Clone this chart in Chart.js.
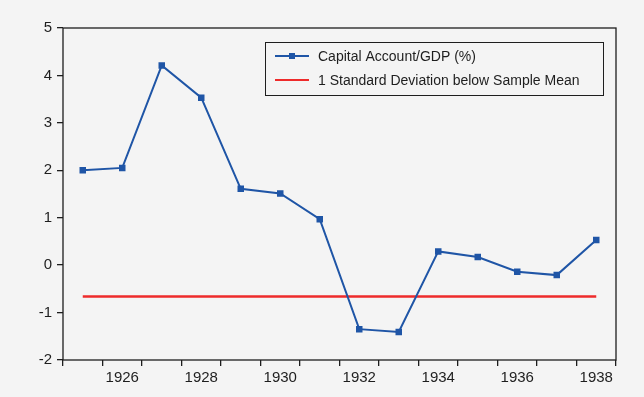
<!DOCTYPE html>
<html>
<head>
<meta charset="utf-8">
<script src="https://cdn.jsdelivr.net/npm/chart.js@4"></script>
<style>
  html, body { margin: 0; padding: 0; background: #f4f4f4; }
  #wrap { width: 644px; height: 397px; }
</style>
</head>
<body>
<div id="wrap"><canvas id="chart" width="644" height="397"></canvas></div>
<script>
const years = ["1925", "1926", "1927", "1928", "1929", "1930", "1931", "1932", "1933", "1934", "1935", "1936", "1937", "1938"];
const capitalAccount = [2.0, 2.05, 4.21, 3.53, 1.61, 1.51, 0.97, -1.35, -1.41, 0.29, 0.17, -0.14, -0.21, 0.53];
const sdBelowMean = -0.66;
const yTicks = [-2, -1, 0, 1, 2, 3, 4, 5];

const seriesNames = ["Capital Account/GDP (%)", "1 Standard Deviation below Sample Mean"];
const blue = "#1f55a6";
const red = "#ee2b2b";
const ink = "#1e1e1e";

// box round the plot + the boxed legend in the upper right
const frameAndLegend = {
  id: "frameAndLegend",
  afterDraw(chart) {
    const { ctx, chartArea: a } = chart;
    ctx.save();
    ctx.strokeStyle = ink;
    ctx.lineWidth = 1.3;
    ctx.strokeRect(a.left, a.top, a.right - a.left, a.bottom - a.top);

    const bx = 265, by = 42, bw = 338, bh = 53;
    ctx.fillStyle = "#f4f4f4";
    ctx.fillRect(bx, by, bw, bh);
    ctx.lineWidth = 1;
    ctx.strokeRect(bx + 0.5, by + 0.5, bw, bh);

    ctx.font = "14px 'Liberation Sans', Arial, sans-serif";
    ctx.textBaseline = "middle";
    const rows = [56, 80];
    const colors = [blue, red];
    rows.forEach((ry, i) => {
      ctx.strokeStyle = colors[i];
      ctx.lineWidth = 2;
      ctx.beginPath();
      ctx.moveTo(275, ry);
      ctx.lineTo(309, ry);
      ctx.stroke();
      if (i === 0) {
        ctx.fillStyle = blue;
        ctx.fillRect(289, ry - 3, 6, 6);
      }
      ctx.fillStyle = ink;
      ctx.fillText(seriesNames[i], 318, ry + 1);
    });
    ctx.restore();
  }
};

new Chart(document.getElementById("chart"), {
  type: "line",
  data: {
    labels: years,
    datasets: [
      {
        label: seriesNames[0],
        data: capitalAccount,
        borderColor: blue,
        backgroundColor: blue,
        borderWidth: 2,
        pointStyle: "rect",
        pointRadius: 4.6,
        pointBorderWidth: 0,
        tension: 0
      },
      {
        label: seriesNames[1],
        data: years.map(() => sdBelowMean),
        borderColor: red,
        borderWidth: 2.5,
        pointRadius: 0
      }
    ]
  },
  options: {
    responsive: false,
    animation: false,
    events: [],
    layout: { padding: { top: 28, right: 28, left: 0, bottom: 0 } },
    plugins: {
      legend: { display: false },
      tooltip: { enabled: false }
    },
    scales: {
      x: {
        type: "category",
        offset: true,
        grid: {
          offset: true,
          drawOnChartArea: false,
          drawTicks: true,
          tickLength: 6,
          color: ink,
          lineWidth: 1.3
        },
        border: { display: false },
        ticks: {
          autoSkip: false,
          maxRotation: 0,
          padding: 3,
          color: ink,
          font: { family: "'Liberation Sans', Arial, sans-serif", size: 15 },
          callback: function (v, i) {
            const y = years[i];
            return parseInt(y) % 2 === 0 ? y : "";
          }
        },
        afterFit(scale) { scale.height = 37; }
      },
      y: {
        min: -2,
        max: 5,
        afterBuildTicks(scale) { scale.ticks = yTicks.map((v) => ({ value: v })); },
        grid: {
          drawOnChartArea: false,
          drawTicks: true,
          tickLength: 6,
          color: ink,
          lineWidth: 1.3
        },
        border: { display: false },
        ticks: {
          padding: 5,
          color: ink,
          font: { family: "'Liberation Sans', Arial, sans-serif", size: 15 }
        },
        afterFit(scale) { scale.width = 63; }
      }
    }
  },
  plugins: [frameAndLegend]
});
</script>
</body>
</html>
